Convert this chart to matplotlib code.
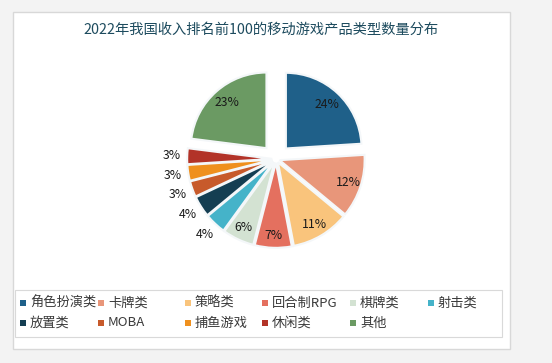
import matplotlib
matplotlib.use("Agg")
import matplotlib.pyplot as plt
from matplotlib.patches import Rectangle
import numpy as np

plt.rcParams['font.family'] = ['Noto Sans CJK SC', 'DejaVu Sans']

title = "2022年我国收入排名前100的移动游戏产品类型数量分布"
categories = ["角色扮演类", "卡牌类", "策略类", "回合制RPG", "棋牌类", "射击类",
              "放置类", "MOBA", "捕鱼游戏", "休闲类", "其他"]
values = [24, 12, 11, 7, 6, 4, 4, 3, 3, 3, 23]
colors = ["#1f6089", "#e8967a", "#f9c47c", "#e4705f", "#d3e2d2", "#45b3c9",
          "#143e52", "#c75a2b", "#ef901e", "#b23328", "#6b9a63"]

W, H = 552, 363
fig = plt.figure(figsize=(W / 100, H / 100), dpi=100)
fig.patch.set_facecolor("#f3f3f3")

def fx(px):
    return px / W

def fy(py):
    return 1 - py / H

# card
card = Rectangle((fx(13), fy(349)), fx(510) - fx(13), fy(12) - fy(349),
                 transform=fig.transFigure, facecolor="white",
                 edgecolor="#d8d8d8", linewidth=1.0, zorder=0)
fig.patches.append(card)

fig.text(fx(261), fy(30), title, ha="center", va="center", fontsize=10.3,
         color="#1d4b5e", fontweight="medium")

# pie (big slices pulled out further and drawn a bit smaller)
cx, cy, R = 276, 159, 85
lim = 1.3
half = R * lim
ax = fig.add_axes([fx(cx - half), fy(cy + half), 2 * half / W, 2 * half / H])
ax.set_zorder(5)
ax.patch.set_alpha(0)

big = [v >= 20 for v in values]
explode = [0.17 if b else 0.045 for b in big]
wedges, _ = ax.pie(values, colors=colors, startangle=90, counterclock=False,
                   explode=explode, radius=1.0,
                   wedgeprops=dict(edgecolor="#f4f7f9", linewidth=1.5))
for w, b in zip(wedges, big):
    if b:
        w.set_radius(0.89)
ax.set_xlim(-lim, lim)
ax.set_ylim(-lim, lim)
ax.set_aspect("equal")
ax.axis("off")

for w, v, b in zip(wedges, values, big):
    th = np.deg2rad((w.theta1 + w.theta2) / 2)
    cxw, cyw = w.center
    if b:
        d = 0.71
    elif v >= 5:
        d = 0.85
    else:
        d = 1.18
    ax.text(cxw + d * np.cos(th), cyw + d * np.sin(th), f"{v}%",
            ha="center", va="center", fontsize=8.8, color="#1a1a1a")

# legend box
lg = Rectangle((fx(15), fy(337)), fx(502) - fx(15), fy(290) - fy(337),
               transform=fig.transFigure, facecolor="white",
               edgecolor="#d9d9d9", linewidth=0.8, zorder=1)
fig.patches.append(lg)

col_x = [22, 100, 187, 264, 352, 430]
row_y = [303, 323]
for i, (c, col) in enumerate(zip(categories, colors)):
    r, k = divmod(i, 6)
    x, y = col_x[k], row_y[r]
    sq = Rectangle((fx(x - 2.5), fy(y + 3)), 6 / W, 6 / H,
                   transform=fig.transFigure, facecolor=col, edgecolor="none",
                   zorder=2)
    fig.patches.append(sq)
    fig.text(fx(x + 8), fy(y), c, ha="left", va="center", fontsize=9.5,
             color="#3a3a3a", zorder=3)

fig.savefig("out.png", dpi=100, facecolor=fig.get_facecolor())
